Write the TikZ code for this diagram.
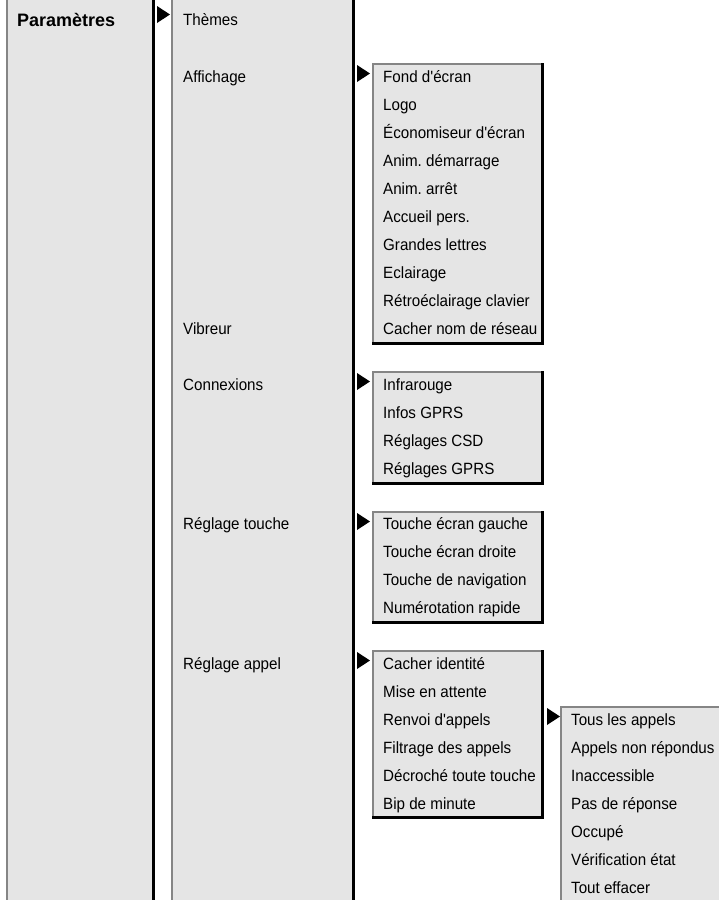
\documentclass[tikz,border=0pt]{standalone}
\usepackage{fontspec}
\setmainfont{Liberation Sans}[FakeStretch=0.93,Ligatures=TeXOff]
\newfontfamily\headfont{Liberation Sans}[Ligatures=TeXOff]
\definecolor{panelfill}{HTML}{E5E5E5}
\definecolor{edgegray}{HTML}{858585}
\frenchspacing
\begin{document}
\begin{tikzpicture}[x=1pt,y=-1pt,
  item/.style={anchor=base west,inner sep=0pt,font=\frenchspacing\fontsize{16.3}{16.3}\selectfont},
  head/.style={anchor=base west,inner sep=0pt,font=\headfont\bfseries\fontsize{18}{18}\selectfont},
  lite/.style={draw=edgegray,line width=2pt},
  dark/.style={draw=black,line width=3pt},
  pointer/.style={fill=black}]
\useasboundingbox (0,0) rectangle (719,900);
\begin{scope}
\clip (0,0) rectangle (719,900);
% column 1
\fill[panelfill] (7,-5) rectangle (153,905);
\draw[lite] (7,-5) -- (7,905);
\draw[dark] (153,-5) -- (153,905);
% column 2
\fill[panelfill] (172,-5) rectangle (353,905);
\draw[lite] (172,-5) -- (172,905);
\draw[dark] (353,-5) -- (353,905);
% sub boxes
\foreach \t/\b in {64/343,372/483,512/622,651/817}{
  \fill[panelfill] (373,\t) rectangle (542,\b);
  \draw[lite] (373,\b) -- (373,\t) -- (542,\t);
  \draw[dark] (542,\t-1) -- (542,\b) -- (371.5,\b);
  \fill[pointer] (357,\t+1) -- (370,\t+9.5) -- (357,\t+18) -- cycle;
}
% third level box
\fill[panelfill] (561,707) rectangle (725,905);
\draw[lite] (561,905) -- (561,707) -- (725,707);
\fill[pointer] (547,708) -- (560,716.5) -- (547,725) -- cycle;
% column 1 pointer
\fill[pointer] (157,6) -- (170,14.5) -- (157,23) -- cycle;
\end{scope}
% texts
\node[head] (param) at (17,26) {Paramètres};
\node[item] (themes) at (183,25) {Thèmes};
\node[item] (affichage) at (183,82) {Affichage};
\node[item] (vibreur) at (183,334) {Vibreur};
\node[item] (connexions) at (183,390) {Connexions};
\node[item] (rtouche) at (183,529) {Réglage touche};
\node[item] (rappel) at (183,669) {Réglage appel};
% box A
\node[item] (a1) at (383,82) {Fond d'écran};
\node[item] (a2) at (383,110) {Logo};
\node[item] (a3) at (383,138) {Économiseur d'écran};
\node[item] (a4) at (383,166) {Anim. démarrage};
\node[item] (a5) at (383,194) {Anim. arrêt};
\node[item] (a6) at (383,222) {Accueil pers.};
\node[item] (a7) at (383,250) {Grandes lettres};
\node[item] (a8) at (383,278) {Eclairage};
\node[item] (a9) at (383,306) {Rétroéclairage clavier};
\node[item] (a10) at (383,334) {Cacher nom de réseau};
% box B
\node[item] (b1) at (383,390) {Infrarouge};
\node[item] (b2) at (383,418) {Infos GPRS};
\node[item] (b3) at (383,446) {Réglages CSD};
\node[item] (b4) at (383,474) {Réglages GPRS};
% box C
\node[item] (c1) at (383,529) {Touche écran gauche};
\node[item] (c2) at (383,557) {Touche écran droite};
\node[item] (c3) at (383,585) {Touche de navigation};
\node[item] (c4) at (383,613) {Numérotation rapide};
% box D
\node[item] (d1) at (383,669) {Cacher identité};
\node[item] (d2) at (383,697) {Mise en attente};
\node[item] (d3) at (383,725) {Renvoi d'appels};
\node[item] (d4) at (383,753) {Filtrage des appels};
\node[item] (d5) at (383,781) {Décroché toute touche};
\node[item] (d6) at (383,809) {Bip de minute};
% box E
\node[item] (e1) at (571,725) {Tous les appels};
\node[item] (e2) at (571,753) {Appels non répondus};
\node[item] (e3) at (571,781) {Inaccessible};
\node[item] (e4) at (571,809) {Pas de réponse};
\node[item] (e5) at (571,837) {Occupé};
\node[item] (e6) at (571,865) {Vérification état};
\node[item] (e7) at (571,893) {Tout effacer};
\end{tikzpicture}
\end{document}
